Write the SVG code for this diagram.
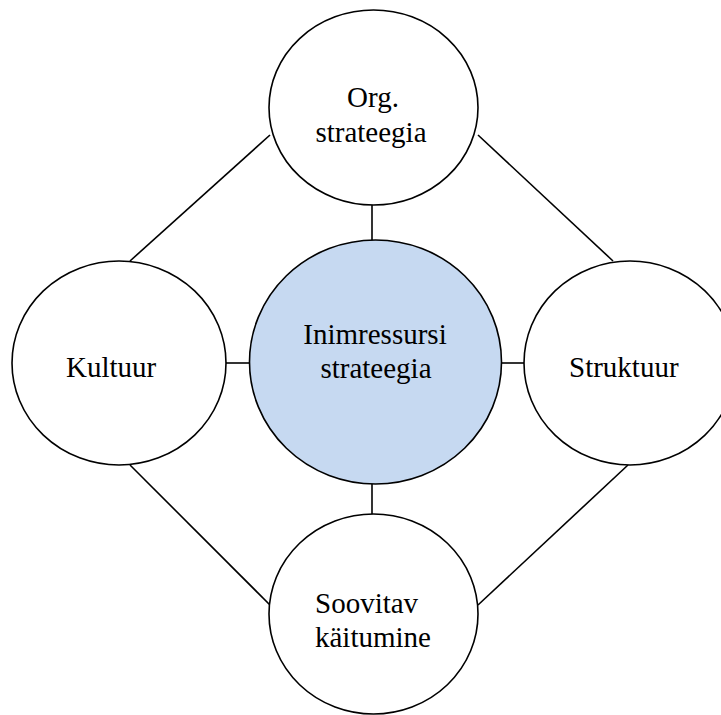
<svg xmlns="http://www.w3.org/2000/svg" width="721" height="715" viewBox="0 0 721 715">
<style>
.n{fill:#fff;stroke:#000;stroke-width:1.6}
.c{fill:#C6D9F1;stroke:#000;stroke-width:1.6}
.e{stroke:#000;stroke-width:1.6;fill:none}
text{font-family:"Liberation Serif","Times New Roman",serif;font-size:29px;fill:#000}
.m{text-anchor:middle}
</style>
<rect width="721" height="715" fill="#fff"/>
<g id="connectors">
<line class="e" x1="372" y1="205" x2="372" y2="241"/>
<line class="e" x1="372" y1="484" x2="372" y2="514"/>
<line class="e" x1="226" y1="363" x2="250" y2="363"/>
<line class="e" x1="501" y1="363" x2="524" y2="363"/>
<line class="e" x1="130" y1="261" x2="270" y2="135"/>
<line class="e" x1="478" y1="135" x2="613" y2="261"/>
<line class="e" x1="130" y1="465" x2="270" y2="605"/>
<line class="e" x1="628" y1="465" x2="478" y2="605"/>
</g>
<g id="org-strateegia">
<ellipse class="n" cx="373.5" cy="107.5" rx="104.5" ry="97.5"/>
<text class="m" x="373" y="107">Org.</text>
<text class="m" x="371" y="142">strateegia</text>
</g>
<g id="kultuur">
<ellipse class="n" cx="119" cy="363" rx="107" ry="102"/>
<text x="66" y="377">Kultuur</text>
</g>
<g id="inimressursi-strateegia">
<ellipse class="c" cx="375.5" cy="362" rx="126" ry="122"/>
<text class="m" x="375" y="344">Inimressursi</text>
<text class="m" x="376" y="378">strateegia</text>
</g>
<g id="struktuur">
<ellipse class="n" cx="630" cy="363" rx="106" ry="102"/>
<text x="569" y="377">Struktuur</text>
</g>
<g id="soovitav-kaitumine">
<ellipse class="n" cx="373.5" cy="614" rx="104.5" ry="100"/>
<text x="315" y="613">Soovitav</text>
<text x="315" y="647">käitumine</text>
</g>
</svg>
